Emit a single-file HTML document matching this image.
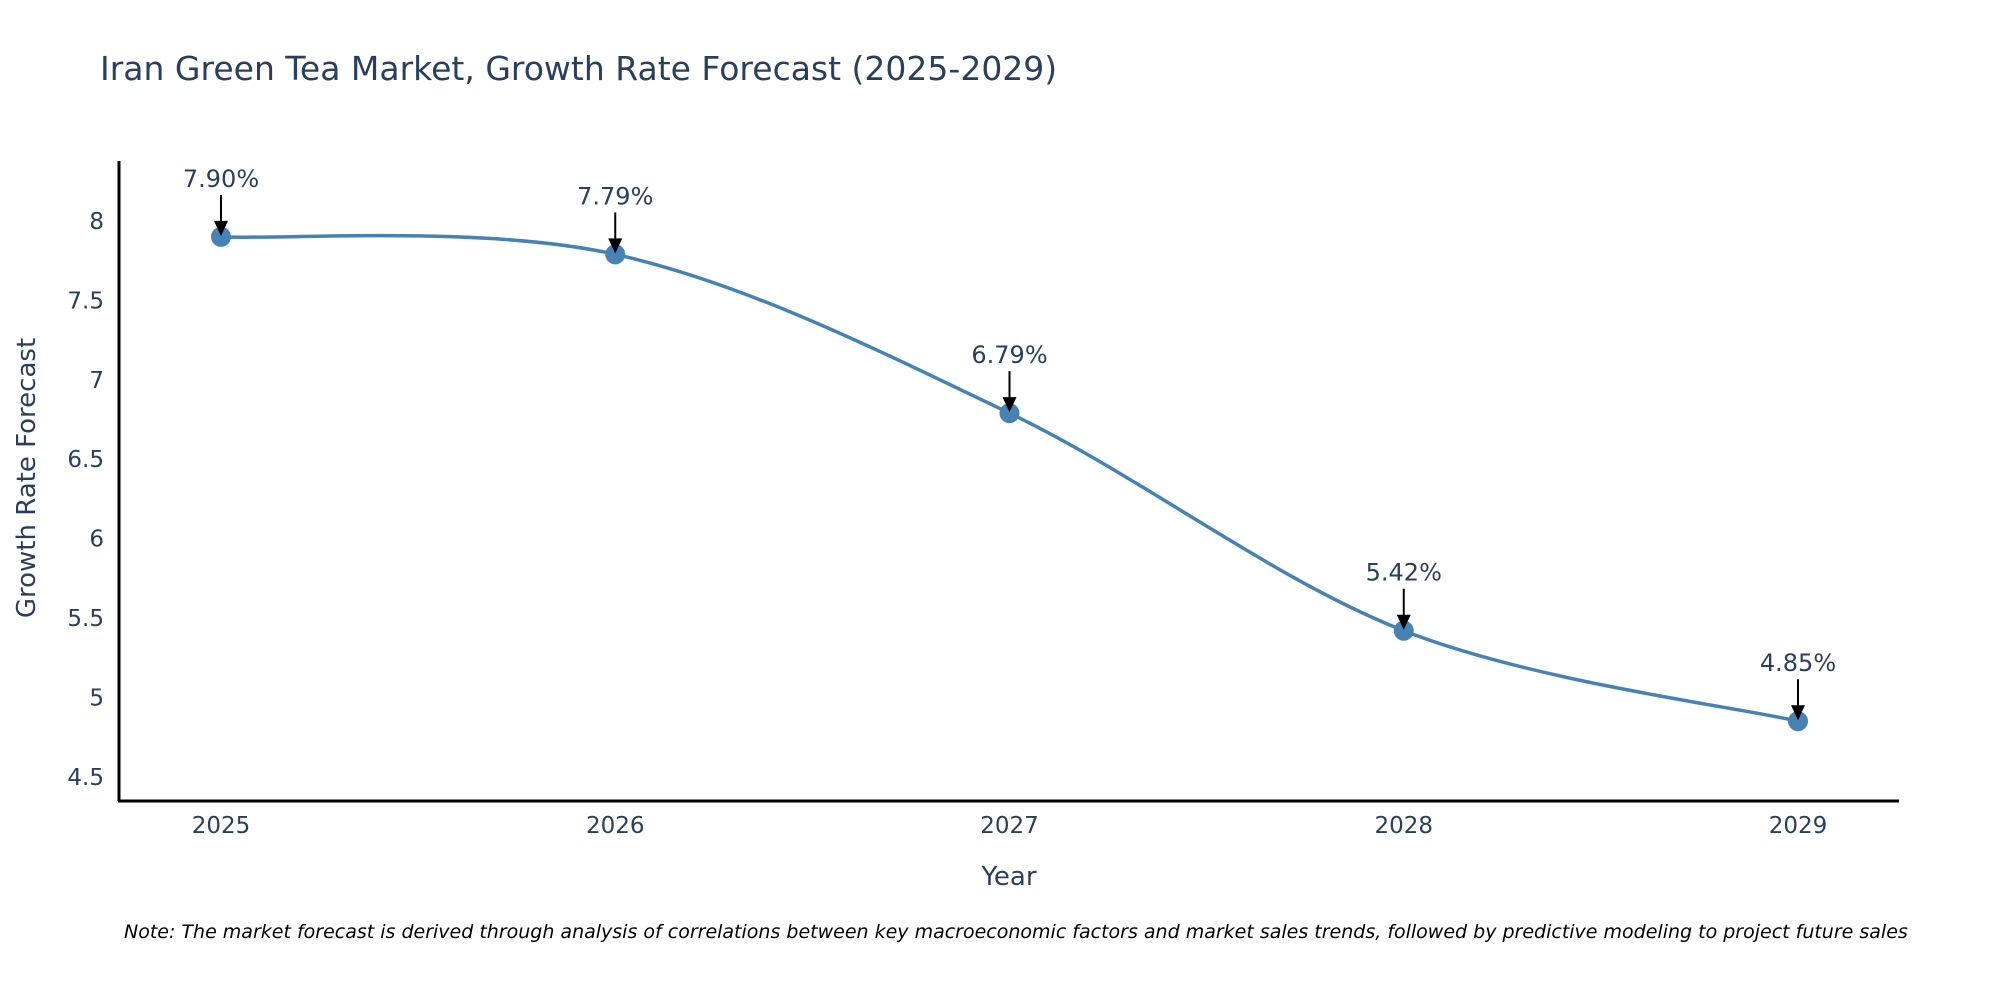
<!DOCTYPE html>
<html><head><meta charset="utf-8"><style>
body{margin:0;background:#fff;}
svg{display:block;font-family:"DejaVu Sans","Liberation Sans",sans-serif;}
</style></head><body>
<svg id="chart" width="2000" height="1000" xmlns="http://www.w3.org/2000/svg">
<text x="100" y="80" font-size="33" fill="#2a3f5f">Iran Green Tea Market, Growth Rate Forecast (2025-2029)</text>
<line x1="119" y1="161" x2="119" y2="801" stroke="#000" stroke-width="3"/>
<line x1="118" y1="801" x2="1899" y2="801" stroke="#000" stroke-width="3"/>
<g id="yticks"></g>
<g id="xticks"></g>
<text x="0" y="0" transform="translate(35,478) rotate(-90)" text-anchor="middle" font-size="26" fill="#2a3f5f">Growth Rate Forecast</text>
<text x="1009" y="885" text-anchor="middle" font-size="26" fill="#2a3f5f">Year</text>
<path id="line" fill="none" stroke="#4682b4" stroke-width="3.5"/>
<g id="points"></g>
<g id="annots"></g>
<text x="124" y="938" font-size="19" font-style="italic" fill="#000">Note: The market forecast is derived through analysis of correlations between key macroeconomic factors and market sales trends, followed by predictive modeling to project future sales</text>
</svg>
<script>
const years = [2025, 2026, 2027, 2028, 2029];
const values = [7.90, 7.79, 6.79, 5.42, 4.85];
const labels = ["7.90%", "7.79%", "6.79%", "5.42%", "4.85%"];
const yTicks = [4.5, 5, 5.5, 6, 6.5, 7, 7.5, 8];
const yTickLabels = ["4.5", "5", "5.5", "6", "6.5", "7", "7.5", "8"];

const NS = "http://www.w3.org/2000/svg";
function xs(v){ return 221 + (v - 2025) * 394.25; }
function ys(v){ return 221 + (8 - v) * 158.8; }
function mk(tag, attrs, parent){ const e = document.createElementNS(NS, tag); for (const k in attrs) e.setAttribute(k, attrs[k]); parent.appendChild(e); return e; }

const yg = document.getElementById('yticks');
yTicks.forEach((t, i) => {
  const tx = mk('text', {x: 104, y: ys(t) + 8, 'text-anchor': 'end', 'font-size': 23, fill: '#2a3f5f'}, yg);
  
  
  tx.textContent = yTickLabels[i];
});
const xg = document.getElementById('xticks');
years.forEach(y => {
  const tx = mk('text', {x: xs(y), y: 833, 'text-anchor': 'middle', 'font-size': 23, fill: '#2a3f5f'}, xg);
  
  
  tx.textContent = String(y);
});

const pts = years.map((y, i) => [xs(y), ys(values[i])]);
let d = 'M' + pts[0][0] + ',' + pts[0][1];
const s = 1/6;
for (let i = 0; i < pts.length - 1; i++) {
  const p0 = pts[Math.max(0, i-1)], p1 = pts[i], p2 = pts[i+1], p3 = pts[Math.min(pts.length-1, i+2)];
  const c1 = [p1[0] + (p2[0]-p0[0])*s, p1[1] + (p2[1]-p0[1])*s];
  const c2 = [p2[0] - (p3[0]-p1[0])*s, p2[1] - (p3[1]-p1[1])*s];
  d += ' C' + c1[0] + ',' + c1[1] + ' ' + c2[0] + ',' + c2[1] + ' ' + p2[0] + ',' + p2[1];
}
document.getElementById('line').setAttribute('d', d);

const pg = document.getElementById('points');
const ag = document.getElementById('annots');
pts.forEach((p, i) => {
  const c = mk('circle', {cx: p[0], cy: p[1], r: 10, fill: '#4682b4'}, pg);
  
  
  const ln = mk('line', {x1: p[0], y1: p[1] - 42, x2: p[0], y2: p[1] - 14, stroke: '#000', 'stroke-width': 2}, ag);
  
  
  const hd = mk('polygon', {points: (p[0]-7)+','+(p[1]-16)+' '+(p[0]+7)+','+(p[1]-16)+' '+p[0]+','+(p[1]-1), fill: '#000'}, ag);
  
  
  const tx = mk('text', {x: p[0], y: p[1] - 50, 'text-anchor': 'middle', 'font-size': 24, fill: '#2a3f5f'}, ag);
  
  
  tx.textContent = labels[i];
});
</script>
</body></html>
